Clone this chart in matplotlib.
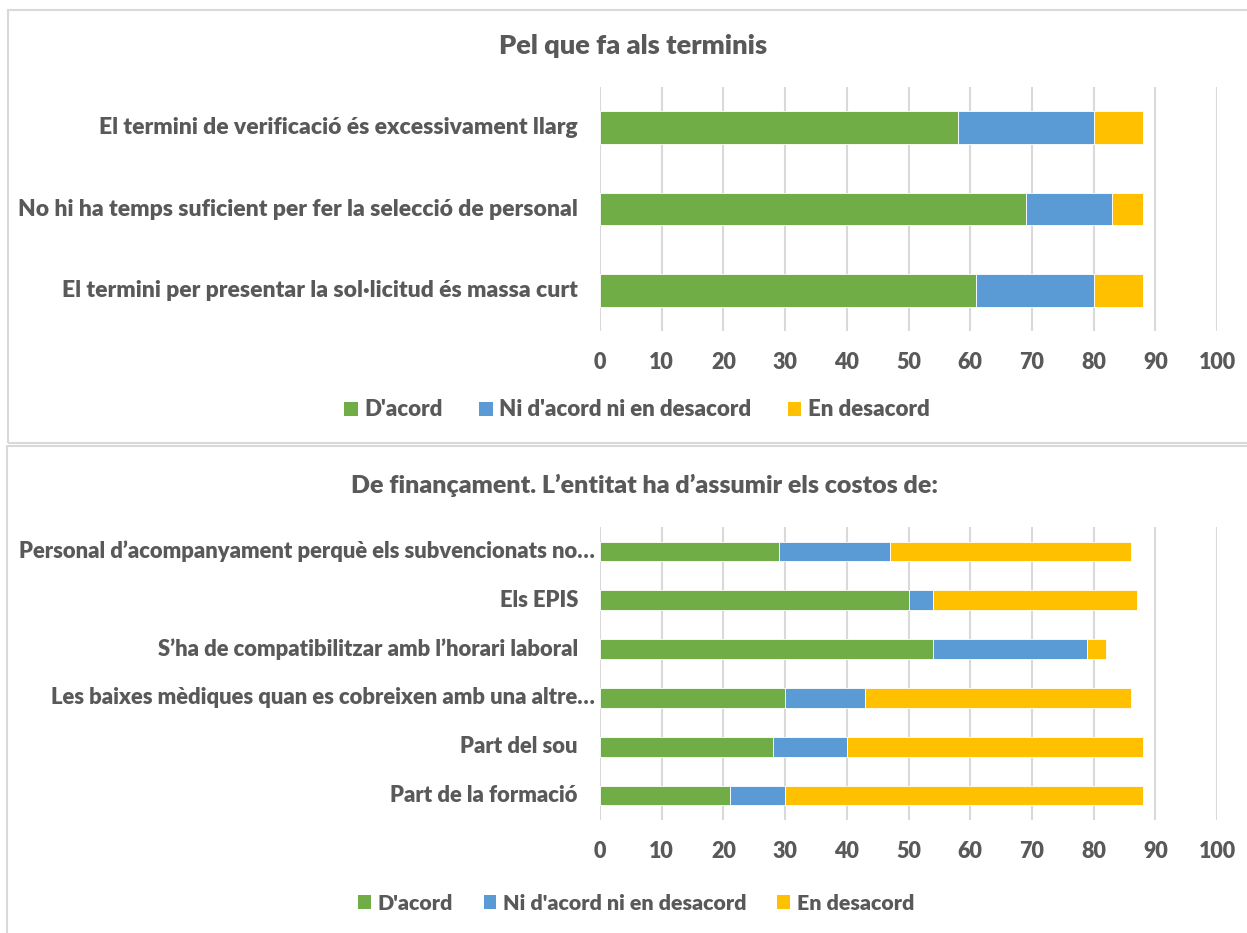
import matplotlib
matplotlib.use('Agg')
import matplotlib.pyplot as plt
import matplotlib.transforms as mtrans
from matplotlib.patches import Patch, Rectangle

# categories, listed top to bottom as in the chart
termCats = ['El termini de verificació és excessivament llarg',
            'No hi ha temps suficient per fer la selecció de personal',
            'El termini per presentar la sol·licitud és massa curt']
termAgree = [58, 69, 61]
termNeutral = [22, 14, 19]
termDisagree = [8, 5, 8]

finCats = ['Personal d’acompanyament perquè els subvencionats no…',
           'Els EPIS',
           'S’ha de compatibilitzar amb l’horari laboral',
           'Les baixes mèdiques quan es cobreixen amb una altre…',
           'Part del sou',
           'Part de la formació']
finAgree = [29, 50, 54, 30, 28, 21]
finNeutral = [18, 4, 25, 13, 12, 9]
finDisagree = [39, 33, 3, 43, 48, 58]

seriesNames = ["D'acord", "Ni d'acord ni en desacord", "En desacord"]
colors = ['#70AD47', '#5B9BD5', '#FFC000']
xticks = list(range(0, 101, 10))

plt.rcParams['font.family'] = ['Lato', 'DejaVu Sans']
txtColor = '#595959'
gridColor = '#d9d9d9'
tickSize = 15.5
wt = 'heavy'

fig = plt.figure(figsize=(12.47, 9.33), dpi=100)
W, H = 1247, 933


def px_axes(left, top, right, bottom):
    return fig.add_axes([left / W, 1 - bottom / H, (right - left) / W, (bottom - top) / H])


def draw(ax, cats, agree, neutral, disagree, truncated, catSize):
    pos = list(range(len(cats)))
    left2 = [a + b for a, b in zip(agree, neutral)]
    ax.barh(pos, agree, height=0.4, color=colors[0], edgecolor='white', linewidth=0.6, zorder=3)
    ax.barh(pos, neutral, left=agree, height=0.4, color=colors[1], edgecolor='white', linewidth=0.6, zorder=3)
    ax.barh(pos, disagree, left=left2, height=0.4, color=colors[2], edgecolor='white', linewidth=0.6, zorder=3)
    ax.set_xlim(0, 100)
    ax.set_ylim(len(cats) - 0.5, -0.5)
    ax.set_xticks(xticks)
    ax.set_yticks(pos)
    ax.set_yticklabels([])
    ax.tick_params(axis='both', length=0)
    ax.tick_params(axis='x', pad=15, labelsize=tickSize, labelcolor=txtColor)
    for lab in ax.get_xticklabels():
        lab.set_fontweight(wt)
    ax.grid(axis='x', color=gridColor, linewidth=1.5, zorder=0)
    ax.set_axisbelow(True)
    for s in ax.spines.values():
        s.set_visible(False)
    for i, c in enumerate(cats):
        off = -5 if c in truncated else -22
        tr = mtrans.offset_copy(ax.get_yaxis_transform(), fig=fig, x=off, y=0, units='dots')
        ax.text(0, i, c, transform=tr, ha='right', va='center', fontsize=catSize,
                fontweight=wt, color=txtColor)


def legend(cx, cy, size, spacing):
    handles = [Patch(facecolor=c, edgecolor='none') for c in colors]
    leg = fig.legend(handles, seriesNames, loc='center', bbox_to_anchor=(cx / W, 1 - cy / H), ncol=3,
                     frameon=False, fontsize=size, handlelength=0.6, handleheight=0.6,
                     handletextpad=0.3, columnspacing=spacing)
    for t in leg.get_texts():
        t.set_color(txtColor)
        t.set_fontweight(wt)


# chart frames
fig.patches.append(Rectangle((8 / W, 1 - 443 / H), 1.2, (443 - 10) / H, transform=fig.transFigure,
                             fill=False, edgecolor=gridColor, linewidth=1.5))
fig.patches.append(Rectangle((7 / W, -0.2), 1.2, 0.2 + (1 - 446 / H), transform=fig.transFigure,
                             fill=False, edgecolor=gridColor, linewidth=1.5))

ax1 = px_axes(600, 87, 1217, 331)
draw(ax1, termCats, termAgree, termNeutral, termDisagree, [], 16.5)
fig.text(633 / W, 1 - 46 / H, 'Pel que fa als terminis', ha='center', va='center',
         fontsize=19.6, fontweight=wt, color=txtColor)
legend(637, 410, 16, 1.65)

ax2 = px_axes(600, 527, 1217, 820)
draw(ax2, finCats, finAgree, finNeutral, finDisagree, [finCats[0], finCats[3]], 15.8)
fig.text(644 / W, 1 - 485 / H, 'De finançament. L’entitat ha d’assumir els costos de:', ha='center',
         va='center', fontsize=18, fontweight=wt, color=txtColor)
legend(636, 903, 15.4, 1.45)

fig.savefig('out.png', dpi=100)
